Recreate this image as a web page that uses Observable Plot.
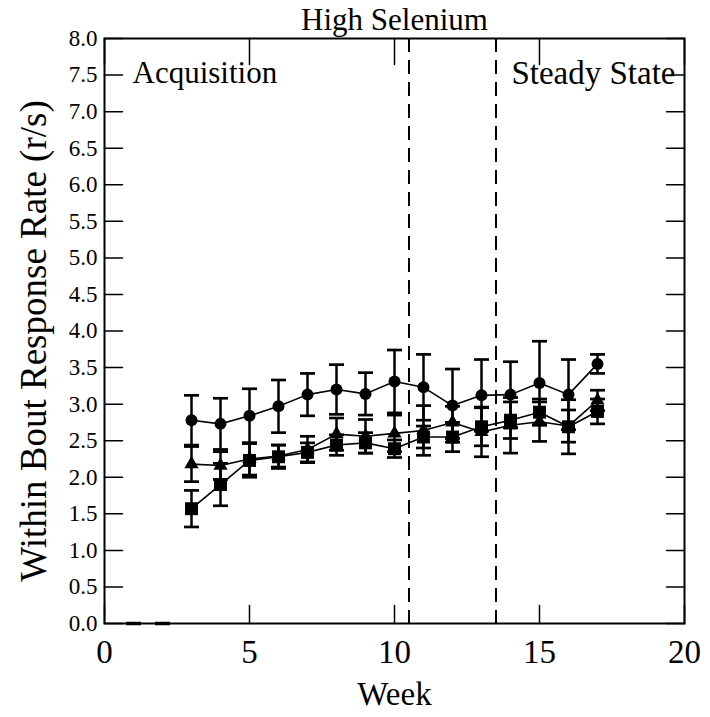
<!DOCTYPE html>
<html>
<head>
<meta charset="utf-8">
<script src="https://cdn.jsdelivr.net/npm/d3@7"></script>
<script src="https://cdn.jsdelivr.net/npm/@observablehq/plot@0.6"></script>
<style>
  html, body { margin: 0; padding: 0; background: #fff; }
  #chart svg { font-family: "Liberation Serif", "Times New Roman", serif; }
</style>
</head>
<body>
<div id="chart"></div>
<script>
// Weekly within-bout response rate (mean ± SEM), high-selenium group
const weeks = [3, 4, 5, 6, 7, 8, 9, 10, 11, 12, 13, 14, 15, 16, 17];

const circleMean = [2.78, 2.73, 2.84, 2.97, 3.13, 3.20, 3.14, 3.31, 3.23, 2.98, 3.12, 3.13, 3.29, 3.13, 3.55];
const circleErr  = [0.34, 0.35, 0.37, 0.36, 0.29, 0.34, 0.29, 0.43, 0.45, 0.50, 0.49, 0.45, 0.57, 0.48, 0.13];

const triangleMean = [2.18, 2.16, 2.25, 2.29, 2.38, 2.59, 2.56, 2.60, 2.64, 2.75, 2.62, 2.71, 2.76, 2.70, 3.05];
const triangleErr  = [0.24, 0.19, 0.22, 0.15, 0.18, 0.22, 0.23, 0.25, 0.34, 0.22, 0.34, 0.38, 0.27, 0.22, 0.14];

const squareMean = [1.57, 1.90, 2.23, 2.28, 2.34, 2.44, 2.47, 2.39, 2.55, 2.55, 2.69, 2.78, 2.89, 2.69, 2.90];
const squareErr  = [0.25, 0.29, 0.23, 0.16, 0.13, 0.14, 0.14, 0.12, 0.15, 0.20, 0.26, 0.25, 0.18, 0.37, 0.17];

// Weeks recorded at zero
const zeroWeeks = [1, 2];
const zeroValues = [0, 0];

// Phase boundaries and labels
const phaseBreaks = [10.5, 13.5];
const title = "High Selenium";
const phaseStart = "Acquisition";
const phaseEnd = "Steady State";

// Axes
const xTicks = [0, 5, 10, 15, 20];
const yTicks = [0, 0.5, 1, 1.5, 2, 2.5, 3, 3.5, 4, 4.5, 5, 5.5, 6, 6.5, 7, 7.5, 8];
const xLabel = "Week";
const yLabel = "Within Bout Response Rate (r/s)";

const series = [
  {name: "circle", symbol: "circle", r: 6, mean: circleMean, err: circleErr},
  {name: "triangle", symbol: "triangle", r: 5.3, mean: triangleMean, err: triangleErr},
  {name: "square", symbol: "square", r: 7.3, mean: squareMean, err: squareErr}
];

const rows = series.flatMap(s => weeks.map((w, i) => ({
  series: s.name,
  week: w,
  mean: s.mean[i],
  lo: s.mean[i] - s.err[i],
  hi: s.mean[i] + s.err[i]
})));

const zeroRows = zeroWeeks.map((w, i) => ({week: w, value: zeroValues[i]}));

// Custom symbols: horizontal error-bar cap, flat bar, and a straight tick line for inward ticks
const cap = {draw(ctx) { ctx.moveTo(-7.5, 0); ctx.lineTo(7.5, 0); }};
const flatBar = {draw(ctx) { ctx.moveTo(-7.5, 0); ctx.lineTo(7.5, 0); }};
const tickLine = {draw(ctx, l) { ctx.moveTo(0, 0); ctx.lineTo(0, -l); }};

const chart = Plot.plot({
  width: 710,
  height: 717,
  marginLeft: 104,
  marginRight: 26,
  marginTop: 38,
  marginBottom: 94,
  style: {fontFamily: "'Liberation Serif', 'Times New Roman', serif", color: "black", background: "white"},
  x: {domain: [0, 20]},
  y: {domain: [0, 8]},
  marks: [
    // axis tick labels
    Plot.axisX(xTicks, {tickSize: 0, tickPadding: 16, fontSize: 33, label: null}),
    Plot.axisY(yTicks, {tickSize: 0, tickPadding: 7, fontSize: 23, label: null, tickFormat: d => d.toFixed(1)}),
    // inward ticks on all four sides
    Plot.vector(xTicks, {x: d => d, frameAnchor: "bottom", rotate: 0, length: 18, anchor: "start", shape: tickLine, stroke: "black", strokeWidth: 1.5}),
    Plot.vector(xTicks, {x: d => d, frameAnchor: "top", rotate: 180, length: 26, anchor: "start", shape: tickLine, stroke: "black", strokeWidth: 1.5}),
    Plot.vector(yTicks, {y: d => d, frameAnchor: "left", rotate: 90, length: 18, anchor: "start", shape: tickLine, stroke: "black", strokeWidth: 1.5}),
    Plot.vector(yTicks, {y: d => d, frameAnchor: "right", rotate: -90, length: 18, anchor: "start", shape: tickLine, stroke: "black", strokeWidth: 1.5}),
    // phase boundaries
    Plot.ruleX(phaseBreaks, {x: d => d, stroke: "black", strokeWidth: 2, strokeDasharray: "14,8"}),
    // zero weeks
    Plot.dot(zeroRows, {x: "week", y: "value", symbol: flatBar, stroke: "black", strokeWidth: 3.5}),
    // error bars
    Plot.ruleX(rows, {x: "week", y1: "lo", y2: "hi", stroke: "black", strokeWidth: 2.5}),
    Plot.dot(rows, {x: "week", y: "lo", symbol: cap, stroke: "black", strokeWidth: 2.7}),
    Plot.dot(rows, {x: "week", y: "hi", symbol: cap, stroke: "black", strokeWidth: 2.7}),
    // series lines and markers
    Plot.line(rows, {x: "week", y: "mean", z: "series", stroke: "black", strokeWidth: 1.6}),
    ...series.map(s => Plot.dot(rows.filter(d => d.series === s.name), {x: "week", y: "mean", symbol: s.symbol, r: s.r, fill: "black", stroke: "none"})),
    // text annotations
    Plot.text([title], {frameAnchor: "top", dy: -18, lineAnchor: "middle", fontSize: 31, fill: "black"}),
    Plot.text([phaseStart], {frameAnchor: "top-left", dx: 28, dy: 35, textAnchor: "start", lineAnchor: "middle", fontSize: 31, fill: "black"}),
    Plot.text([phaseEnd], {frameAnchor: "top-right", dx: -9, dy: 35, textAnchor: "end", lineAnchor: "middle", fontSize: 33, fill: "black"}),
    Plot.text([xLabel], {frameAnchor: "bottom", dy: 71, lineAnchor: "middle", fontSize: 33, fill: "black"}),
    Plot.text([yLabel], {frameAnchor: "left", dx: -70, dy: 10, rotate: -90, textAnchor: "middle", lineAnchor: "middle", fontSize: 37, fill: "black"}),
    Plot.frame({stroke: "black", strokeWidth: 2})
  ]
});

document.getElementById("chart").appendChild(chart);
</script>
</body>
</html>
